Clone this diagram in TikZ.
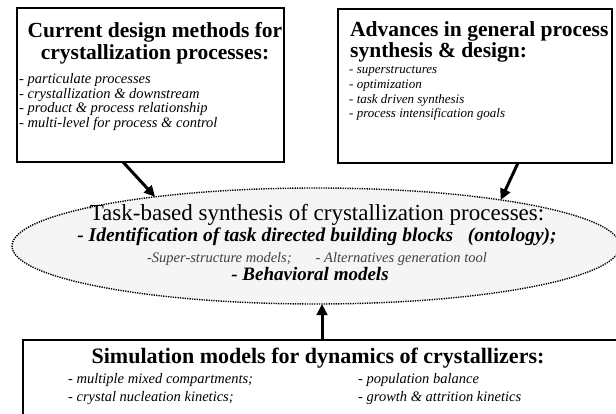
\documentclass[tikz,border=0pt]{standalone}
\usepackage{fontspec}
\setmainfont{Liberation Serif}
\usetikzlibrary{arrows.meta,shapes.geometric}
\begin{document}
\begin{tikzpicture}[x=1pt,y=-1pt,
  box/.style={draw=black,line width=1.2pt,fill=white,inner sep=0pt,outer sep=0pt},
  ttl/.style={font=\fontsize{21.5}{22}\selectfont\bfseries,inner sep=0pt},
  itm/.style={font=\fontsize{14.5}{15}\selectfont\itshape,inner sep=0pt,anchor=base west},
  itmb/.style={font=\fontsize{13}{14}\selectfont\itshape,inner sep=0pt,anchor=base west},
  arr/.style={line width=3pt,-{Triangle[length=11pt,width=10.5pt]}},
  ellbox/.style={ellipse,draw=black,line width=1.4pt,dash pattern=on 1.3pt off 1.1pt,fill=black!4,inner sep=0pt,outer sep=0pt},
]
\useasboundingbox (0,0) rectangle (616,414);
\clip (0,0) rectangle (616,414);
% boxes
\node[box,minimum width=267pt,minimum height=154pt] (box1) at (150.5,85) {};
\node[box,minimum width=274pt,minimum height=154pt] (box2) at (475,86) {};
\node[box,minimum width=617pt,minimum height=100pt] (box3) at (331.5,390) {};
\node[ellbox,minimum width=608pt,minimum height=116pt] (ell) at (316,246) {};
% box 1 text
\node[ttl,anchor=base] (t1a) at (155,38) {Current design methods for};
\node[ttl,anchor=base] (t1b) at (155,60) {crystallization processes:};
\node[itm] (i1a) at (19,84) {- particulate processes};
\node[itm] (i1b) at (19,99) {- crystallization \& downstream};
\node[itm] (i1c) at (19,113) {- product \& process relationship};
\node[itm] (i1d) at (19,128) {- multi-level for process \& control};
% box 2 text
\node[ttl,anchor=base west] (t2a) at (350,37) {Advances in general process};
\node[ttl,anchor=base west] (t2b) at (350,58) {synthesis \& design:};
\node[itmb] (i2a) at (349,74) {- superstructures};
\node[itmb] (i2b) at (349,89) {- optimization};
\node[itmb] (i2c) at (349,104) {- task driven synthesis};
\node[itmb] (i2d) at (349,118) {- process intensification goals};
% ellipse text
\node[anchor=base,inner sep=0pt,font=\fontsize{23}{24}\selectfont] (e1) at (317,221) {Task-based synthesis of crystallization processes:};
\node[anchor=base,inner sep=0pt,font=\fontsize{19.5}{20}\selectfont\bfseries\itshape] (e2) at (317,242) {- Identification of task directed building blocks\ \ \ (ontology);};
\node[anchor=base,inner sep=0pt,font=\fontsize{14.5}{15}\selectfont\itshape,text=black!75] (e3) at (317,263) {-Super-structure models;\hspace{24pt}- Alternatives generation tool};
\node[anchor=base,inner sep=0pt,font=\fontsize{19}{20}\selectfont\bfseries\itshape] (e4) at (310,280) {- Behavioral models};
% bottom box text
\node[anchor=base,inner sep=0pt,font=\fontsize{22}{23}\selectfont\bfseries] (t3) at (318,363) {Simulation models for dynamics of crystallizers:};
\node[itm] (i3a) at (68,383) {- multiple mixed compartments;};
\node[itm] (i3b) at (68,401) {- crystal nucleation kinetics;};
\node[itm] (i3c) at (358,383) {- population balance};
\node[itm] (i3d) at (358,401) {- growth \& attrition kinetics};
% arrows
\draw[arr] ([xshift=-27.5pt]box1.south) -- (ell.163.4);
\draw[arr] ([xshift=43pt]box2.south) -- (ell.14.1);
\draw[arr] ([xshift=-9.5pt]box3.north) -- ([xshift=6pt]ell.south);
\end{tikzpicture}
\end{document}
